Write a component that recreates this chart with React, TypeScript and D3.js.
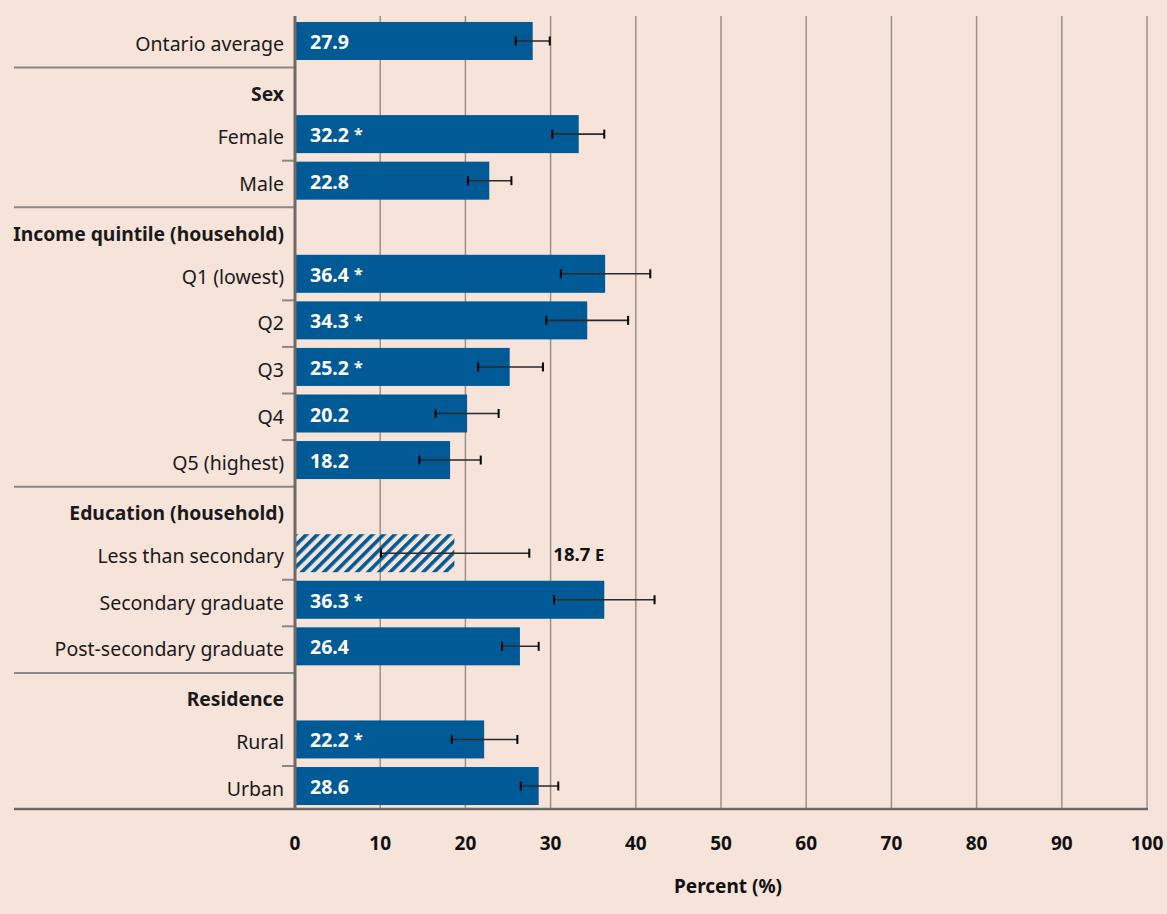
import React from "react";
import * as d3 from "d3";

const categories = [
  "Ontario average", "Sex", "Female", "Male", "Income quintile (household)",
  "Q1 (lowest)", "Q2", "Q3", "Q4", "Q5 (highest)", "Education (household)",
  "Less than secondary", "Secondary graduate", "Post-secondary graduate",
  "Residence", "Rural", "Urban",
];
const isHeader = [false, true, false, false, true, false, false, false, false, false, true, false, false, false, true, false, false];
const values: (number | null)[] = [27.9, null, 33.3, 22.8, null, 36.4, 34.3, 25.2, 20.2, 18.2, null, 18.7, 36.3, 26.4, null, 22.2, 28.6];
const ciLow: (number | null)[] = [25.9, null, 30.2, 20.3, null, 31.2, 29.5, 21.5, 16.5, 14.6, null, 10.1, 30.4, 24.3, null, 18.4, 26.5];
const ciHigh: (number | null)[] = [29.9, null, 36.3, 25.4, null, 41.7, 39.1, 29.1, 23.9, 21.8, null, 27.5, 42.2, 28.6, null, 26.1, 30.9];
const valueLabels = ["27.9", "", "32.2", "22.8", "", "36.4", "34.3", "25.2", "20.2", "18.2", "", "18.7", "36.3", "26.4", "", "22.2", "28.6"];
const flags = ["", "", "*", "", "", "*", "*", "*", "", "", "", "E", "*", "", "", "*", ""];
// separator after row i: "long" between groups, "short" within a group
const separators = ["long", "", "short", "long", "", "short", "short", "short", "short", "long", "", "short", "short", "long", "", "short", ""];
const xTicks = [0, 10, 20, 30, 40, 50, 60, 70, 80, 90, 100];
const xTitle = "Percent (%)";

const W = 1167, H = 914;
const BG = "#f6e3d9";
const BLUE = "#005a96";
const FONT = "'Noto Sans', 'Open Sans', sans-serif";

export default function App() {
  const x = d3.scaleLinear().domain([0, 100]).range([295, 1147]);
  const y = d3.scaleBand<number>().domain(d3.range(categories.length)).range([17.7, 809.3]).paddingInner(0.184).paddingOuter(0.092);
  const bh = y.bandwidth();
  const axisTop = 16;
  const axisBottom = 809;

  return (
    <svg width={W} height={H} style={{ position: "absolute", left: 0, top: 0 }} fontFamily={FONT}>
      <defs>
        <pattern id="hatch" patternUnits="userSpaceOnUse" width={7.8} height={7.8} patternTransform="rotate(45)">
          <rect x={0} y={0} width={3.6} height={7.8} fill={BLUE} />
        </pattern>
      </defs>
      <rect x={0} y={0} width={W} height={H} fill={BG} />
      {/* gridlines */}
      {xTicks.filter((t) => t > 0).map((t) => (
        <line key={"g" + t} x1={x(t)} x2={x(t)} y1={axisTop} y2={axisBottom} stroke="#9b918c" strokeWidth={1.5} />
      ))}
      {/* separators */}
      {separators.map((s, i) => {
        if (!s) return null;
        const yy = (y(i + 1) as number) - 1;
        return (
          <line key={"s" + i} x1={s === "long" ? 14 : 282} x2={x(0)} y1={yy} y2={yy} stroke="#888" strokeWidth={2} />
        );
      })}
      {/* bars */}
      {values.map((v, i) => {
        if (v == null) return null;
        const y0 = y(i) as number;
        const hatched = flags[i] === "E";
        return (
          <rect key={"b" + i} x={x(0)} y={y0} width={x(v) - x(0)} height={bh} fill={hatched ? "url(#hatch)" : BLUE} />
        );
      })}
      {/* error bars */}
      {values.map((v, i) => {
        if (v == null) return null;
        const cy = (y(i) as number) + bh / 2;
        const lo = x(ciLow[i] as number), hi = x(ciHigh[i] as number);
        return (
          <g key={"e" + i}>
            <line x1={lo} x2={hi} y1={cy} y2={cy} stroke="#2a2a2a" strokeWidth={1.6} />
            <line x1={lo} x2={lo} y1={cy - 4.5} y2={cy + 4.5} stroke="#000" strokeWidth={2} />
            <line x1={hi} x2={hi} y1={cy - 4.5} y2={cy + 4.5} stroke="#000" strokeWidth={2} />
          </g>
        );
      })}
      {/* value labels */}
      {values.map((v, i) => {
        if (v == null) return null;
        const cy = (y(i) as number) + bh / 2 + 1;
        const hatched = flags[i] === "E";
        if (hatched) {
          return (
            <text key={"v" + i} x={x(ciHigh[i] as number) + 24} y={cy} dy="0.36em" fontSize={18.5} fontWeight="bold" fill="#111">
              {valueLabels[i]} <tspan fontSize={16.5}>{flags[i]}</tspan>
            </text>
          );
        }
        return (
          <text key={"v" + i} x={310} y={cy} dy="0.36em" fontSize={19.5} fontWeight="bold" fill="#fff">
            {valueLabels[i]}
            {flags[i] ? <tspan fontSize={16} dx={5} dy={-2}>{flags[i]}</tspan> : null}
          </text>
        );
      })}
      {/* category labels */}
      {categories.map((c, i) => {
        const cy = (y(i) as number) + bh / 2 + (isHeader[i] ? 6.5 : 3);
        return (
          <text key={"c" + i} x={284} y={cy} dy="0.36em" textAnchor="end" fontSize={isHeader[i] ? 19.3 : 19.5}
            fontWeight={isHeader[i] ? "bold" : "normal"} fill="#1a1a1a">
            {c}
          </text>
        );
      })}
      {/* axes */}
      <line x1={x(0)} x2={x(0)} y1={axisTop} y2={axisBottom + 1} stroke="#6e6a68" strokeWidth={3} />
      <line x1={14} x2={x(100) + 1} y1={axisBottom} y2={axisBottom} stroke="#6e6a68" strokeWidth={2.5} />
      {xTicks.map((t) => (
        <text key={"t" + t} x={x(t)} y={843} dy="0.36em" textAnchor="middle" fontSize={19} fontWeight="bold" fill="#111">
          {t}
        </text>
      ))}
      <text x={728} y={886} dy="0.36em" textAnchor="middle" fontSize={19} fontWeight="bold" fill="#111">
        {xTitle}
      </text>
    </svg>
  );
}
